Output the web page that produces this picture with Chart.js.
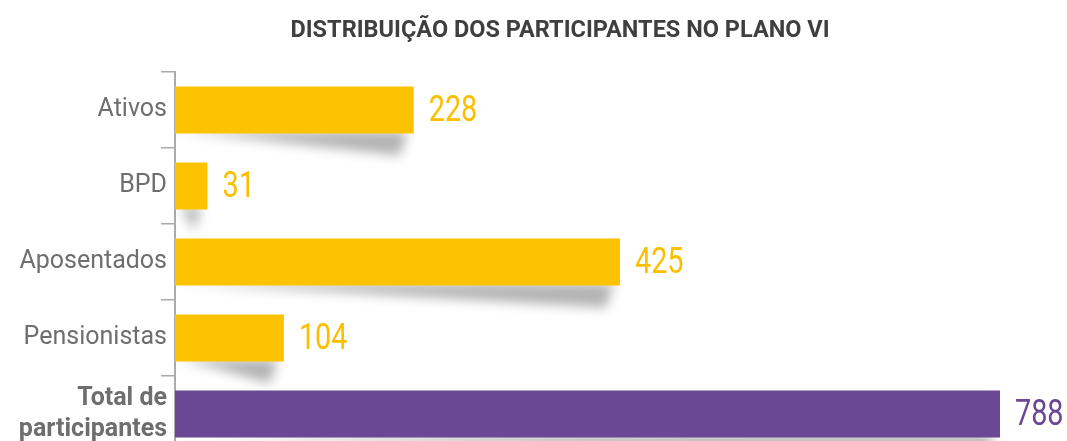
<!DOCTYPE html>
<html>
<head>
<meta charset="utf-8">
<script src="https://cdn.jsdelivr.net/npm/chart.js@4.4.1/dist/chart.umd.min.js"></script>
<style>
  html, body { margin: 0; padding: 0; background: #fff; overflow: hidden; }
  #wrap { position: relative; width: 1067px; height: 452px; }
  #title {
    position: absolute; top: 15px; left: 0; width: 1120px;
    text-align: center; font: bold 23.5px Roboto, sans-serif; color: #3f3f3f;
  }
</style>
</head>
<body>
<div id="wrap">
  <div id="title">DISTRIBUIÇÃO DOS PARTICIPANTES NO PLANO VI</div>
  <canvas id="plano"></canvas>
</div>
<script>
// dados
const categorias = ['Ativos', 'BPD', 'Aposentados', 'Pensionistas', ['Total de', 'participantes']];
const participantes = [228, 31, 425, 104, 788];
const coresBarras = ['#fdc300', '#fdc300', '#fdc300', '#fdc300', '#6b4894'];
const coresValores = ['#fcbf00', '#fcbf00', '#fcbf00', '#fcbf00', '#6b4894'];

// sombra inclinada embaixo de cada barra
const sombraPlugin = {
    id: 'sombra',
    beforeDatasetsDraw(chart) {
        const ctx = chart.ctx;
        const meta = chart.getDatasetMeta(0);
        ctx.save();
        ctx.filter = 'blur(6px)';
        ctx.fillStyle = 'rgba(0,0,0,0.3)';
        meta.data.forEach(bar => {
            const x0 = bar.base, x1 = bar.x;
            const b = bar.y + bar.height / 2;
            const w = x1 - x0;
            ctx.beginPath();
            ctx.moveTo(x0 + 4, b - 2);
            ctx.lineTo(x1 - 6, b - 2);
            ctx.lineTo(x1 - 14, b + 22);
            ctx.lineTo(x0 + w * 0.35, b + 6);
            ctx.closePath();
            ctx.fill();
        });
        ctx.restore();
    }
};

// valores ao lado das barras (fonte um pouco estreitada)
const valoresPlugin = {
    id: 'valores',
    afterDatasetsDraw(chart) {
        const ctx = chart.ctx;
        const meta = chart.getDatasetMeta(0);
        ctx.font = '36px Roboto, sans-serif';
        ctx.textAlign = 'left';
        ctx.textBaseline = 'middle';
        meta.data.forEach((bar, i) => {
            ctx.save();
            ctx.translate(bar.x + 15, bar.y + 2);
            ctx.scale(0.8, 1);
            ctx.fillStyle = coresValores[i];
            ctx.fillText(participantes[i], 0, 0);
            ctx.restore();
        });
    }
};

const ctx = document.getElementById('plano').getContext('2d');

new Chart(ctx, {
    type: 'bar',
    data: {
        labels: categorias,
        datasets: [{
            data: participantes,
            backgroundColor: coresBarras,
            borderWidth: 0,
            categoryPercentage: 1,
            barPercentage: 0.62
        }]
    },
    options: {
        indexAxis: 'y',
        responsive: true,
        maintainAspectRatio: false,
        animation: false,
        layout: { padding: { top: 72, bottom: 0, left: 0, right: 0 } },
        plugins: {
            legend: { display: false },
            tooltip: { enabled: false }
        },
        scales: {
            x: { display: false, min: 0, max: 852 },
            y: {
                afterFit(scale) {
                    scale.width = 175;
                    scale.paddingTop = 0;
                    scale.paddingBottom = 0;
                },
                grid: {
                    drawOnChartArea: false,
                    tickLength: 14,
                    color: '#ababab',
                    lineWidth: 1.5
                },
                border: { color: '#ababab', width: 2 },
                ticks: {
                    padding: -6,
                    color: '#6e6e6e',
                    font: (c) => ({
                        family: 'Roboto, sans-serif',
                        size: 25,
                        weight: c.index === 4 ? 'bold' : 'normal',
                        lineHeight: 1.25
                    })
                }
            }
        }
    },
    plugins: [sombraPlugin, valoresPlugin]
});
</script>
</body>
</html>
